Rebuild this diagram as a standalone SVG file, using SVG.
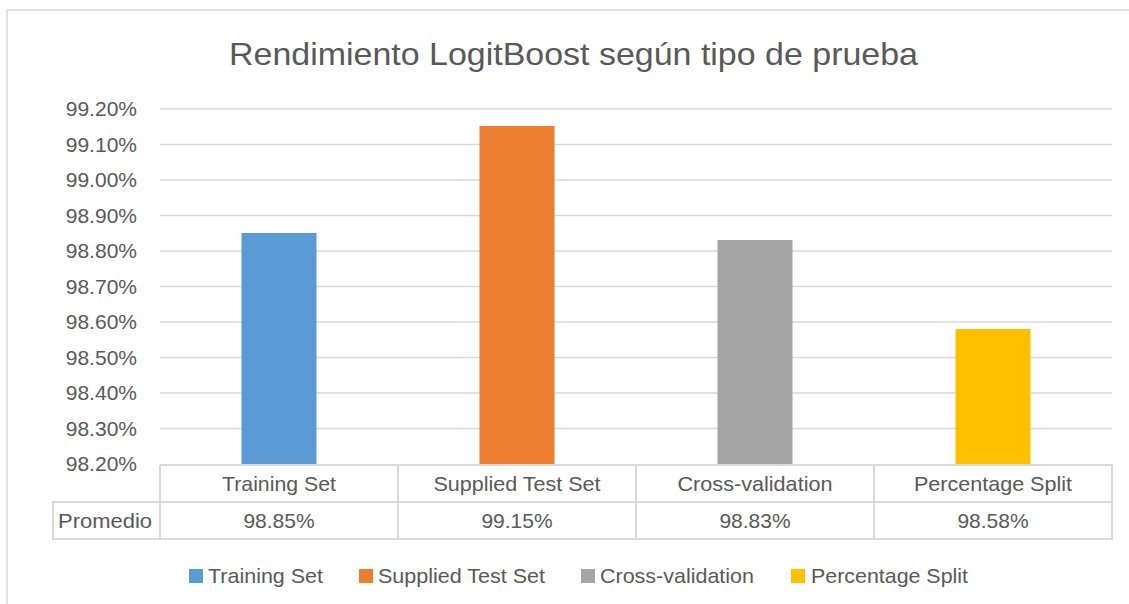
<svg xmlns="http://www.w3.org/2000/svg" width="1129" height="604" viewBox="0 0 1129 604">
<style>
text{font-family:"Liberation Sans",Arial,sans-serif;fill:#595959}
.ax{font-size:21px;text-anchor:end}
.cell{font-size:21px;text-anchor:middle}
.leg{font-size:21px}
.grid{stroke:#d9d9d9;stroke-width:1.5}
.tbl{stroke:#d9d9d9;stroke-width:2;fill:none}
</style>
<rect x="0" y="0" width="1129" height="604" fill="#fff"/>
<rect x="7" y="10" width="1140" height="620" fill="none" stroke="#d9d9d9" stroke-width="1.5"/>
<text x="573.5" y="65" font-size="32" text-anchor="middle" textLength="689" lengthAdjust="spacingAndGlyphs">Rendimiento LogitBoost según tipo de prueba</text>
<g id="gridlines">
<line class="grid" x1="160" y1="109" x2="1112" y2="109"/>
<line class="grid" x1="160" y1="144.5" x2="1112" y2="144.5"/>
<line class="grid" x1="160" y1="180" x2="1112" y2="180"/>
<line class="grid" x1="160" y1="215.5" x2="1112" y2="215.5"/>
<line class="grid" x1="160" y1="251" x2="1112" y2="251"/>
<line class="grid" x1="160" y1="286.5" x2="1112" y2="286.5"/>
<line class="grid" x1="160" y1="322" x2="1112" y2="322"/>
<line class="grid" x1="160" y1="357.5" x2="1112" y2="357.5"/>
<line class="grid" x1="160" y1="393" x2="1112" y2="393"/>
<line class="grid" x1="160" y1="428.5" x2="1112" y2="428.5"/>
</g>
<g id="yaxis">
<text class="ax" x="137" y="116">99.20%</text>
<text class="ax" x="137" y="151.5">99.10%</text>
<text class="ax" x="137" y="187">99.00%</text>
<text class="ax" x="137" y="222.5">98.90%</text>
<text class="ax" x="137" y="258">98.80%</text>
<text class="ax" x="137" y="293.5">98.70%</text>
<text class="ax" x="137" y="329">98.60%</text>
<text class="ax" x="137" y="364.5">98.50%</text>
<text class="ax" x="137" y="400">98.40%</text>
<text class="ax" x="137" y="435.5">98.30%</text>
<text class="ax" x="137" y="471">98.20%</text>
</g>
<g id="bars">
<rect id="bar-training" x="241.5" y="233" width="75" height="231" fill="#5B9BD5"/>
<rect id="bar-supplied" x="479.5" y="126" width="75" height="338" fill="#ED7D31"/>
<rect id="bar-cross" x="717.5" y="240" width="75" height="224" fill="#A5A5A5"/>
<rect id="bar-percentage" x="955.5" y="329" width="75" height="135" fill="#FFC000"/>
</g>
<g id="table">
<path class="tbl" d="M160 465H1112V539H53V502H1112M160 465V539M398 465V539M636 465V539M874 465V539"/>
<text class="cell" x="279" y="491" textLength="114" lengthAdjust="spacingAndGlyphs">Training Set</text>
<text class="cell" x="517" y="491" textLength="167" lengthAdjust="spacingAndGlyphs">Supplied Test Set</text>
<text class="cell" x="755" y="491" textLength="155" lengthAdjust="spacingAndGlyphs">Cross-validation</text>
<text class="cell" x="993" y="491" textLength="158" lengthAdjust="spacingAndGlyphs">Percentage Split</text>
<text class="cell" x="105" y="528" textLength="94" lengthAdjust="spacingAndGlyphs">Promedio</text>
<text class="cell" x="279" y="528">98.85%</text>
<text class="cell" x="517" y="528">99.15%</text>
<text class="cell" x="755" y="528">98.83%</text>
<text class="cell" x="993" y="528">98.58%</text>
</g>
<g id="legend">
<rect x="189" y="569" width="14" height="14" fill="#5B9BD5"/>
<text class="leg" x="208" y="583" textLength="115" lengthAdjust="spacingAndGlyphs">Training Set</text>
<rect x="359" y="569" width="14" height="14" fill="#ED7D31"/>
<text class="leg" x="378" y="583" textLength="167" lengthAdjust="spacingAndGlyphs">Supplied Test Set</text>
<rect x="581" y="569" width="14" height="14" fill="#A5A5A5"/>
<text class="leg" x="600" y="583" textLength="154" lengthAdjust="spacingAndGlyphs">Cross-validation</text>
<rect x="791" y="569" width="14" height="14" fill="#FFC000"/>
<text class="leg" x="811" y="583" textLength="157" lengthAdjust="spacingAndGlyphs">Percentage Split</text>
</g>
</svg>
